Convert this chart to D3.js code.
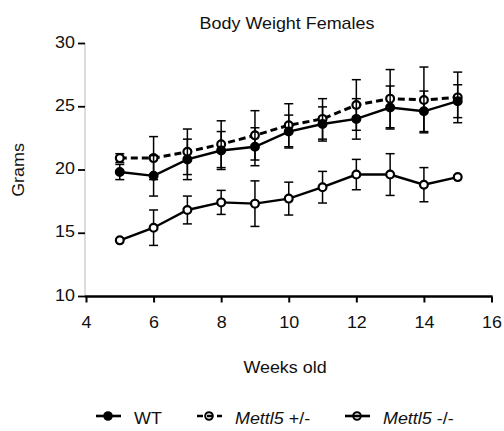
<!DOCTYPE html>
<html>
<head>
<meta charset="utf-8">
<script src="https://cdn.jsdelivr.net/npm/d3@7"></script>
<style>
  body { margin: 0; background: #fff; }
  text { font-family: "Liberation Sans", Arial, sans-serif; fill: #111; }
</style>
</head>
<body>
<div id="chart"></div>
<script>
// weeks on the x axis
const weeks = [5, 6, 7, 8, 9, 10, 11, 12, 13, 14, 15];

// mean body weight (g) and error per group
const wtMean  = [19.8, 19.5, 20.8, 21.5, 21.8, 23.0, 23.6, 24.0, 24.9, 24.6, 25.4];
const wtErr   = [0.6, 1.6, 1.6, 1.5, 1.5, 1.3, 1.35, 1.6, 1.7, 1.6, 1.3];
const hetMean = [20.9, 20.9, 21.4, 22.0, 22.7, 23.5, 24.0, 25.1, 25.6, 25.5, 25.7];
const hetErr  = [0.35, 1.7, 1.8, 1.85, 1.95, 1.7, 1.6, 2.0, 2.3, 2.6, 2.0];
const koMean  = [14.4, 15.4, 16.8, 17.4, 17.3, 17.7, 18.6, 19.6, 19.6, 18.8, 19.4];
const koErr   = [0, 1.4, 1.1, 0.95, 1.8, 1.3, 1.25, 1.2, 1.65, 1.35, 0];

const xTicks = [4, 6, 8, 10, 12, 14, 16];
const yTicks = [10, 15, 20, 25, 30];

const width = 504, height = 431;
const K = 1.12; // the original lettering is a bit wider than Liberation Sans

const svg = d3.select('#chart').append('svg')
  .attr('width', width)
  .attr('height', height);

const x = d3.scaleLinear().domain([4, 16]).range([86, 491.5]);
const y = d3.scaleLinear().domain([10, 30]).range([296, 43]);

// text placed at (cx, cy), stretched horizontally by K
function label(parent, cx, cy, str, anchor) {
  return parent.append('text')
    .attr('transform', `translate(${cx},${cy}) scale(${K},1)`)
    .attr('text-anchor', anchor || 'middle')
    .style('font-size', '16px')
    .text(str);
}

// title
label(svg, 287, 29, 'Body Weight Females');

// y axis: pale line, black ticks
const yAxis = svg.append('g')
  .attr('transform', 'translate(85,0)')
  .call(d3.axisLeft(y).tickValues(yTicks).tickSize(7));
yAxis.select('.domain').attr('stroke', '#bbb').attr('stroke-width', 1).attr('d', `M0,${y(30)}V${y(10)}`);
yAxis.selectAll('.tick line').attr('stroke', '#000').attr('stroke-width', 1.8);
yAxis.selectAll('.tick text')
  .style('font-size', '16px').attr('fill', '#111')
  .attr('x', -10 / K).attr('dy', '0.25em')
  .attr('transform', `scale(${K},1)`);

// x axis: bold black line
const xAxis = svg.append('g')
  .attr('transform', 'translate(0,296.5)')
  .call(d3.axisBottom(x).tickValues(xTicks).tickSize(6).tickFormat(d3.format('d')));
xAxis.select('.domain').attr('stroke', '#000').attr('stroke-width', 2.4).attr('d', `M${x(4) - 1},0H${x(16) + 1}`);
xAxis.selectAll('.tick line').attr('stroke', '#000').attr('stroke-width', 2);
xAxis.selectAll('.tick text')
  .style('font-size', '16px').attr('fill', '#111')
  .attr('y', 20).attr('transform', `scale(${K},1)`);

// axis titles
svg.append('text')
  .attr('transform', `translate(23.5,170) rotate(-90) scale(${K},1)`)
  .attr('text-anchor', 'middle')
  .style('font-size', '16px')
  .text('Grams');

label(svg, 285, 373, 'Weeks old');

const series = [
  { name: 'ko',  mean: koMean,  err: koErr,  fill: '#fff', dash: null },
  { name: 'het', mean: hetMean, err: hetErr, fill: '#fff', dash: '7,4' },
  { name: 'wt',  mean: wtMean,  err: wtErr,  fill: '#000', dash: null }
];

const line = d3.line()
  .x(d => x(d.w))
  .y(d => y(d.m));

series.forEach(s => {
  const pts = weeks.map((w, i) => ({ w, m: s.mean[i], e: s.err[i] }));
  const g = svg.append('g').attr('class', s.name);

  // error bars
  const eb = g.selectAll('.err').data(pts.filter(d => d.e > 0)).join('g').attr('class', 'err');
  eb.append('line')
    .attr('x1', d => x(d.w)).attr('x2', d => x(d.w))
    .attr('y1', d => y(d.m + d.e)).attr('y2', d => y(d.m - d.e));
  eb.append('line')
    .attr('x1', d => x(d.w) - 4.5).attr('x2', d => x(d.w) + 4.5)
    .attr('y1', d => y(d.m + d.e)).attr('y2', d => y(d.m + d.e));
  eb.append('line')
    .attr('x1', d => x(d.w) - 4.5).attr('x2', d => x(d.w) + 4.5)
    .attr('y1', d => y(d.m - d.e)).attr('y2', d => y(d.m - d.e));
  eb.selectAll('line').attr('stroke', '#000').attr('stroke-width', 1.5);

  g.append('path')
    .datum(pts)
    .attr('d', line)
    .attr('fill', 'none')
    .attr('stroke', '#000')
    .attr('stroke-width', s.dash ? 3 : 2.4)
    .attr('stroke-dasharray', s.dash);

  g.selectAll('circle').data(pts).join('circle')
    .attr('cx', d => x(d.w)).attr('cy', d => y(d.m))
    .attr('r', 3.9)
    .attr('fill', s.fill)
    .attr('stroke', '#000')
    .attr('stroke-width', 2.2);
});

// legend
const legend = svg.append('g').attr('transform', 'translate(0,416)');
const legendItems = [
  { x: 96,  fill: '#000', dash: null,  label: [['', 'WT']], tx: 134 },
  { x: 197, fill: 'none', dash: '6,4', label: [['Mettl5', ''], ['', ' +/-']], tx: 235 },
  { x: 345, fill: 'none', dash: null,  label: [['Mettl5', ''], ['', ' -/-']], tx: 383 }
];
legendItems.forEach(it => {
  legend.append('line')
    .attr('x1', it.x).attr('x2', it.x + 25)
    .attr('y1', 0).attr('y2', 0)
    .attr('stroke', '#000').attr('stroke-width', 2.6)
    .attr('stroke-dasharray', it.dash);
  legend.append('circle')
    .attr('cx', it.x + 12).attr('cy', 0).attr('r', 3.8)
    .attr('fill', it.fill).attr('stroke', '#000').attr('stroke-width', 2);
  const t = legend.append('text')
    .attr('transform', `translate(${it.tx},8) scale(${K},1)`)
    .style('font-size', '16px');
  it.label.forEach(([ital, plain]) => {
    if (ital) t.append('tspan').style('font-style', 'italic').text(ital);
    if (plain) t.append('tspan').text(plain);
  });
});
</script>
</body>
</html>
